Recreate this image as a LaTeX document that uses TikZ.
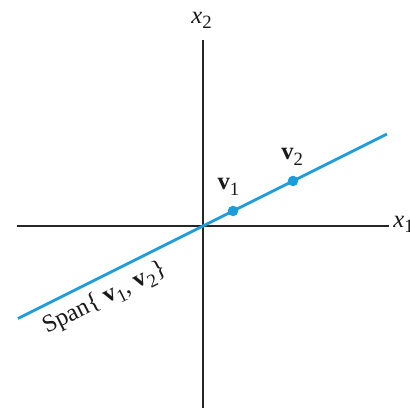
\documentclass[tikz,border=0pt]{standalone}
\usepackage{fontspec}
\setmainfont{Liberation Serif}
\usepackage{xcolor}
\usetikzlibrary{positioning,calc}

\definecolor{spanblue}{RGB}{28,156,216}
\newcommand{\lowsub}[1]{\raisebox{-0.5ex}{\fontsize{16}{18}\selectfont #1}}

\begin{document}
\begin{tikzpicture}[x=0.9cm, y=0.9cm,
  axis/.style={draw, line width=0.9pt, black!85},
  spanline/.style={draw, line width=2.4pt, spanblue},
  vecdot/.style={circle, fill=spanblue, inner sep=0pt, minimum size=9pt},
  lbl/.style={font=\fontsize{21}{23}\selectfont, inner sep=1pt, text=black!90}
]
\useasboundingbox (-6.767,-6.067) rectangle (6.9,7.533);

% Axes
\coordinate (xl) at (-6.2,0);
\coordinate (xr) at (6.2,0);
\coordinate (yt) at (0,6.2);
\coordinate (yb) at (0,-6.1);
\draw[axis] (xl) -- (xr);
\draw[axis] (yb) -- (yt);
\node[lbl, anchor=west] (xone) at (6.3,0.05) {\textit{x}\lowsub{1}};
\node[lbl] (xtwo) at (-0.05,6.85) {\textit{x}\lowsub{2}};

% Span line
\coordinate (sl) at (-6.17,-3.085);
\coordinate (sr) at (6.13,3.065);
\draw[spanline] (sl) -- (sr)
  node[lbl, pos=0.21, sloped, below=6pt] (span) {Span\{ \textbf{v}\lowsub{1}, \textbf{v}\lowsub{2}\}};

% Vectors
\node[vecdot] (v1) at (1,0.5) {};
\node[vecdot] (v2) at (3,1.5) {};
\node[lbl] (v1lbl) at (0.85,1.3) {\textbf{v}\lowsub{1}};
\node[lbl] (v2lbl) at (2.97,2.3) {\textbf{v}\lowsub{2}};
\end{tikzpicture}
\end{document}
